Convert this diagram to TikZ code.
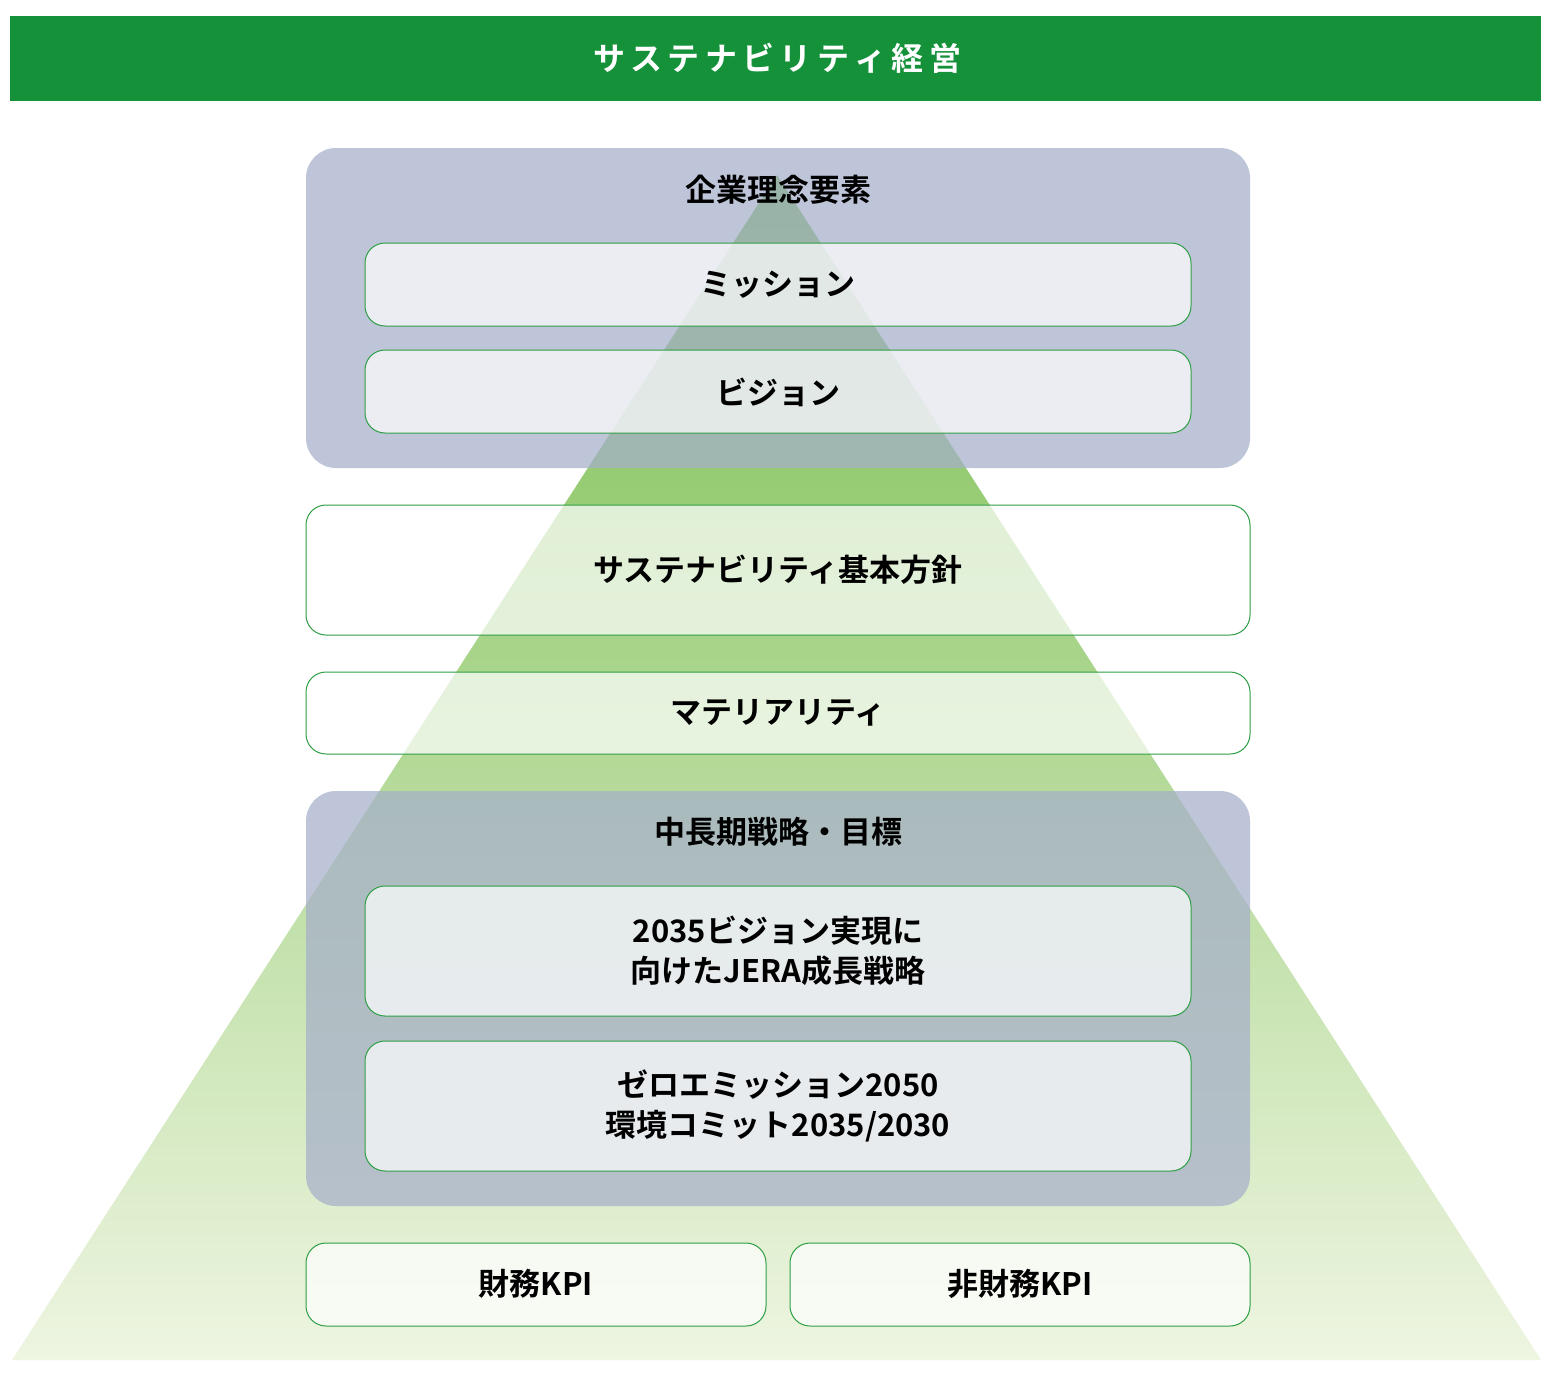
\documentclass[tikz,border=0pt]{standalone}
\usepackage{fontspec}
\newfontfamily\jp{Noto Sans CJK JP Bold}
\definecolor{hdr}{HTML}{15913A}
\definecolor{grp}{HTML}{A6AFCA}
\definecolor{edge}{HTML}{2E9E44}
\definecolor{ttop}{HTML}{78BE4E}
\definecolor{tbot}{HTML}{EEF5E1}
\begin{document}
\begin{tikzpicture}[x=1pt,y=-1pt,
  lbl/.style={font=\jp\fontsize{31}{40}\selectfont, text=black, align=center},
  grpbox/.style={fill=grp, fill opacity=0.72, draw=none, rounded corners=30pt},
  wbox/.style={fill=white, fill opacity=0.7, draw=edge, draw opacity=1, line width=1pt, rounded corners=20pt}]
\useasboundingbox (0,0) rectangle (1557,1378);
\fill[white] (0,0) rectangle (1557,1378);
% header
\fill[hdr] (10,16) rectangle (1541,101);
\node[font=\jp\fontsize{32}{40}\selectfont, text=white] (hdr) at (777,58) {サ\,ス\,テ\,ナ\,ビ\,リ\,テ\,ィ\,経\,営};
% pyramid
\shade[top color=ttop, bottom color=tbot] (777,175) -- (1541,1360) -- (12,1360) -- cycle;
% groups
\fill[grpbox] (306,148) rectangle (1250,468);
\fill[grpbox] (306,791) rectangle (1250,1206);
\node[lbl] (g1) at (778,190) {企業理念要素};
\node[lbl] (g2) at (778,832) {中長期戦略・目標};
% boxes
\draw[wbox] (365,243) rectangle (1191,326);
\node[lbl] (m) at (778,285) {ミッション};
\draw[wbox] (365,350) rectangle (1191,433);
\node[lbl] (v) at (778,392) {ビジョン};
\draw[wbox] (306,505) rectangle (1250,635);
\node[lbl] (s) at (778,570) {サステナビリティ基本方針};
\draw[wbox] (306,672) rectangle (1250,754);
\node[lbl] (mt) at (778,713) {マテリアリティ};
\draw[wbox] (365,886) rectangle (1191,1016);
\node[lbl] (b1) at (778,951) {2035ビジョン実現に\\向けたJERA成長戦略};
\draw[wbox] (365,1041) rectangle (1191,1171);
\node[lbl] (b2) at (778,1106) {ゼロエミッション2050\\環境コミット2035/2030};
\draw[wbox] (306,1243) rectangle (766,1326);
\node[lbl] (k1) at (536,1284) {財務KPI};
\draw[wbox] (790,1243) rectangle (1250,1326);
\node[lbl] (k2) at (1020,1284) {非財務KPI};
\end{tikzpicture}
\end{document}
